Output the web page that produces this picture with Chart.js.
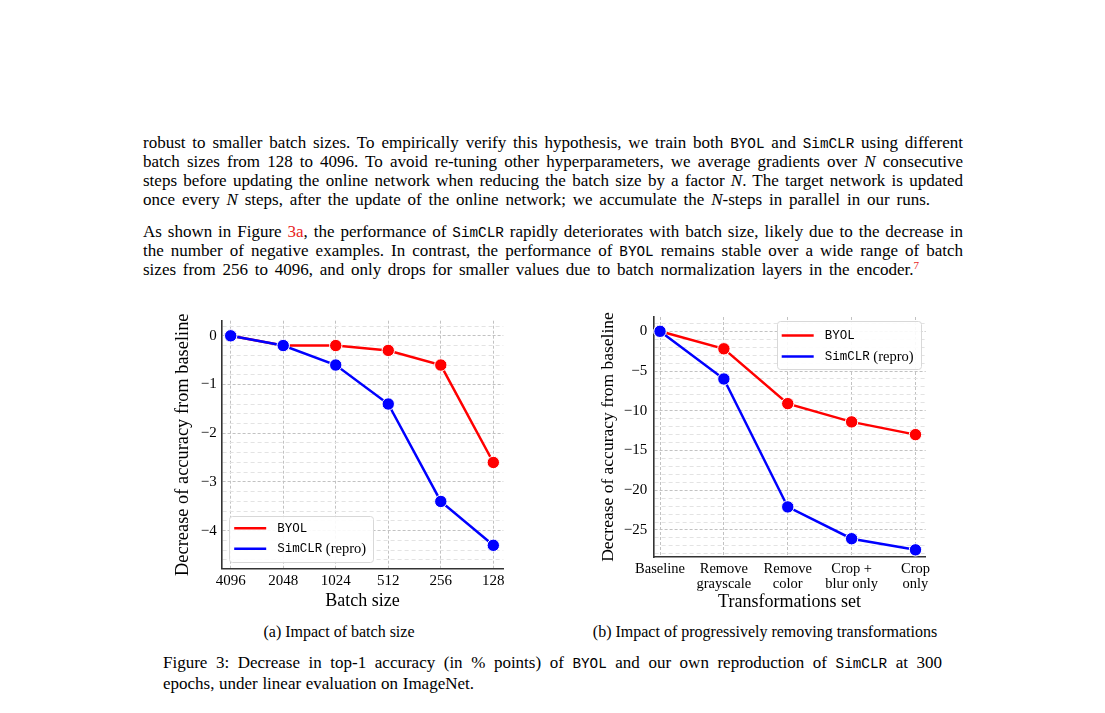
<!DOCTYPE html>
<html><head><meta charset="utf-8">
<script src="https://cdn.jsdelivr.net/npm/chart.js@4"></script>
<style>
html,body{margin:0;padding:0;background:#fff}
body{width:1105px;height:713px;position:relative;overflow:hidden;font-family:"Liberation Serif","Times New Roman",serif;color:#000}
.j{position:absolute;display:inline-block;white-space:nowrap;font-size:17px;line-height:19px}
.tt{font-family:"Liberation Mono",monospace;font-size:14.3px}
.red{color:#e82424}
.fn{color:#e82424;font-size:11px;position:relative;top:-6px}
.cap{position:absolute;white-space:nowrap;font-size:16px;line-height:18px}
canvas{position:absolute}
</style></head>
<body>
<div class="j" data-w="820" style="left:143px;top:133px">robust to smaller batch sizes. To empirically verify this hypothesis, we train both <span class="tt">BYOL</span> and <span class="tt">SimCLR</span> using different</div>
<div class="j" data-w="820" style="left:143px;top:152.1px">batch sizes from 128 to 4096. To avoid re-tuning other hyperparameters, we average gradients over <i>N</i> consecutive</div>
<div class="j" data-w="820" style="left:143px;top:171.2px">steps before updating the online network when reducing the batch size by a factor <i>N</i>. The target network is updated</div>
<div class="j" data-w="787" style="left:143px;top:190.3px">once every <i>N</i> steps, after the update of the online network; we accumulate the <i>N</i>-steps in parallel in our runs.</div>
<div class="j" data-w="820" style="left:143px;top:221.7px">As shown in Figure <span class="red">3a</span>, the performance of <span class="tt">SimCLR</span> rapidly deteriorates with batch size, likely due to the decrease in</div>
<div class="j" data-w="820" style="left:143px;top:240.8px">the number of negative examples. In contrast, the performance of <span class="tt">BYOL</span> remains stable over a wide range of batch</div>
<div class="j" data-w="776" style="left:143px;top:259.9px">sizes from 256 to 4096, and only drops for smaller values due to batch normalization layers in the encoder.<span class="fn">7</span></div>

<canvas id="c1" width="360" height="316" style="left:160px;top:300px"></canvas>
<canvas id="c2" width="340" height="316" style="left:595px;top:300px"></canvas>

<div class="cap" style="left:339px;top:623px;transform:translateX(-50%)">(a) Impact of batch size</div>
<div class="cap" style="left:765px;top:623px;transform:translateX(-50%)">(b) Impact of progressively removing transformations</div>

<div class="j" data-w="779" style="left:163px;top:653px">Figure 3: Decrease in top-1 accuracy (in % points) of <span class="tt">BYOL</span> and our own reproduction of <span class="tt">SimCLR</span> at 300</div>
<div class="j" data-w="311" style="left:163px;top:674px">epochs, under linear evaluation on ImageNet.</div>

<script>
// ---- data ----
const batchSizes = ['4096', '2048', '1024', '512', '256', '128'];
const byolBatch = [0, -0.2, -0.2, -0.3, -0.6, -2.6];
const simclrBatch = [0, -0.2, -0.6, -1.4, -3.4, -4.3];
const yTicksBatch = [0, -1, -2, -3, -4];

const transformSets = [['Baseline'], ['Remove', 'grayscale'], ['Remove', 'color'], ['Crop +', 'blur only'], ['Crop', 'only']];
const byolTrans = [0, -2.2, -9.1, -11.4, -13.0];
const simclrTrans = [0, -6.0, -22.1, -26.1, -27.5];
const yTicksTrans = [0, -5, -10, -15, -20, -25];

const seriesNames = ['BYOL', 'SimCLR (repro)'];
const seriesColors = ['#ff0000', '#0000ff'];

// ---- justify text lines ----
document.querySelectorAll('.j').forEach(el => {
  if (!el.dataset.w) return;
  const target = parseFloat(el.dataset.w);
  el.style.wordSpacing = '0px';
  const w = el.getBoundingClientRect().width;
  const spaces = (el.textContent.match(/ /g) || []).length;
  if (spaces) el.style.wordSpacing = ((target - w) / spaces) + 'px';
});

Chart.defaults.font.family = '"Liberation Serif", "Times New Roman", serif';
Chart.defaults.color = '#000';

const fmt = v => (v < 0 ? '\u2212' + Math.abs(v) : String(v));

const legendBox = {
  id: 'legendBox',
  afterDatasetsDraw(chart, args, o) {
    const ca = chart.chartArea, ctx = chart.ctx;
    const w = o.w, h = o.h;
    const x = o.anchor === 'll' ? ca.left + o.dx : ca.right - o.dx - w;
    const y = o.anchor === 'll' ? ca.bottom - o.dy - h : ca.top + o.dy;
    ctx.save();
    ctx.beginPath();
    ctx.roundRect(Math.round(x) + 0.5, Math.round(y) + 0.5, w, h, 3);
    ctx.fillStyle = 'rgba(255,255,255,0.9)';
    ctx.fill();
    ctx.strokeStyle = '#d8d8d8';
    ctx.lineWidth = 1;
    ctx.stroke();
    chart.data.datasets.forEach((ds, i) => {
      const ly = y + o.row0 + i * o.rowGap;
      ctx.strokeStyle = ds.borderColor;
      ctx.lineWidth = 2.5;
      ctx.beginPath();
      ctx.moveTo(x + 5, ly);
      ctx.lineTo(x + 37, ly);
      ctx.stroke();
      const parts = ds.label.split(' ');
      ctx.fillStyle = '#000';
      ctx.textBaseline = 'middle';
      ctx.textAlign = 'left';
      ctx.font = '12.5px "Liberation Mono", monospace';
      ctx.fillText(parts[0], x + 48, ly);
      if (parts.length > 1) {
        const tw = ctx.measureText(parts[0]).width;
        ctx.font = '14.5px "Liberation Serif", serif';
        ctx.fillText(' ' + parts.slice(1).join(' '), x + 48 + tw, ly + 0.5);
      }
    });
    ctx.restore();
  }
};

function makeDatasets(a, b) {
  return [a, b].map((arr, k) => ({
    label: seriesNames[k],
    data: arr.map((v, i) => ({ x: i, y: v })),
    borderColor: seriesColors[k],
    backgroundColor: seriesColors[k],
    pointBackgroundColor: seriesColors[k],
    pointBorderColor: '#ffffff',
    pointBorderWidth: 1,
    pointRadius: 6.2,
    borderWidth: 2.5,
    tension: 0,
    order: k === 0 ? 2 : 1,
    clip: false
  }));
}

function makeChart(id, cfg) {
  return new Chart(document.getElementById(id), {
    type: 'line',
    data: { datasets: makeDatasets(cfg.a, cfg.b) },
    plugins: [legendBox],
    options: {
      responsive: false,
      animation: false,
      events: [],
      devicePixelRatio: 1,
      layout: { padding: { top: cfg.padTop, right: cfg.padRight, left: 0, bottom: 0 } },
      plugins: {
        legend: { display: false },
        tooltip: { enabled: false },
        legendBox: cfg.legend
      },
      scales: {
        x: {
          type: 'linear',
          min: cfg.xmin, max: cfg.xmax,
          afterBuildTicks: s => { s.ticks = cfg.cats.map((_, i) => ({ value: i })); },
          afterFit: s => { s.height = cfg.xH; },
          grid: { color: '#c2c2c2', lineWidth: 1, drawTicks: false },
          border: { color: '#333', width: 1.6, dash: [3, 2] },
          ticks: {
            padding: cfg.xPad, autoSkip: false, maxRotation: 0,
            font: { size: cfg.xFont, lineHeight: 1.08 }, color: '#000',
            callback: v => cfg.cats[v]
          },
          title: { display: true, text: cfg.xTitle, color: '#000', font: { size: 18 }, padding: { top: 0, bottom: cfg.xTitlePad } }
        },
        y: {
          min: cfg.ymin, max: cfg.ymax,
          afterBuildTicks: s => {
            const t = [];
            const st = cfg.minor;
            for (let k = Math.ceil(s.min / st - 1e-9); k <= Math.floor(s.max / st + 1e-9); k++) {
              t.push({ value: Math.round(k * st * 1000) / 1000 });
            }
            s.ticks = t;
          },
          afterFit: s => { s.width = cfg.yW; },
          grid: {
            color: c => (c.tick && cfg.yTicks.includes(c.tick.value)) ? '#c2c2c2' : '#e3e3e3',
            lineWidth: 1, drawTicks: false
          },
          border: {
            color: '#333', width: 1.6,
            dash: c => (c.tick && cfg.yTicks.includes(c.tick.value)) ? [3, 2] : [4, 3]
          },
          ticks: {
            padding: cfg.yPad, autoSkip: false, color: '#000',
            font: { size: 15 },
            callback: v => cfg.yTicks.includes(v) ? fmt(v) : ''
          },
          title: { display: true, text: 'Decrease of accuracy from baseline', color: '#000', font: { size: cfg.yTitleFont }, padding: { top: cfg.yTitlePad, bottom: 0 } }
        }
      }
    }
  });
}

makeChart('c1', {
  a: byolBatch, b: simclrBatch, cats: batchSizes, yTicks: yTicksBatch,
  xmin: -0.171, xmax: 5.19, ymin: -4.78, ymax: 0.31, minor: 0.2,
  padTop: 20.7, padRight: 16.7, xH: 47.3, yW: 61.7,
  xPad: 4, xFont: 15, xTitle: 'Batch size', xTitlePad: 4.2,
  yPad: 5, yTitleFont: 18.4, yTitlePad: 12,
  legend: { anchor: 'll', dx: 7.5, dy: 7, w: 144, h: 46, row0: 12.5, rowGap: 20.5 }
});

makeChart('c2', {
  a: byolTrans, b: simclrTrans, cats: transformSets, yTicks: yTicksTrans,
  xmin: -0.105, xmax: 4.16, ymin: -28.4, ymax: 1.8, minor: 1,
  padTop: 17, padRight: 9.3, xH: 59, yW: 58.3,
  xPad: 4, xFont: 14.5, xTitle: 'Transformations set', xTitlePad: 3.2,
  yPad: 6, yTitleFont: 17.5, yTitlePad: 2.5,
  legend: { anchor: 'tr', dx: 5, dy: 4, w: 144, h: 48, row0: 14.5, rowGap: 21 }
});
</script>
</body></html>
